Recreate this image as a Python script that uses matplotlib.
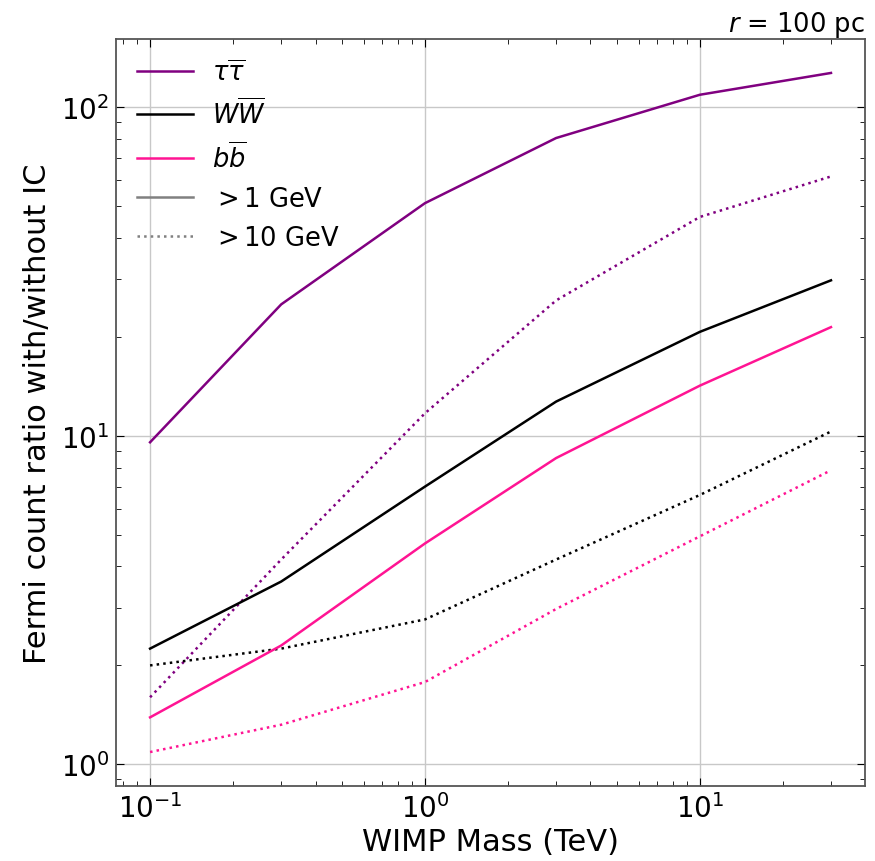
import matplotlib
matplotlib.use("Agg")
import matplotlib.pyplot as plt
from matplotlib.lines import Line2D

# WIMP masses (TeV)
mass = [0.1, 0.3, 1, 3, 10, 30]

# Fermi count ratio with/without IC, photons > 1 GeV
tau_1gev = [9.55, 25.1, 51, 80.5, 109, 127]
ww_1gev = [2.25, 3.6, 7.0, 12.7, 20.7, 29.7]
bb_1gev = [1.39, 2.3, 4.7, 8.55, 14.2, 21.4]

# Fermi count ratio with/without IC, photons > 10 GeV
tau_10gev = [1.6, 4.2, 11.7, 25.8, 46.3, 61.5]
ww_10gev = [2.0, 2.25, 2.76, 4.2, 6.6, 10.3]
bb_10gev = [1.09, 1.32, 1.78, 2.97, 4.94, 7.85]

channel_labels = [r'$\tau\overline{\tau}$', r'$W\overline{W}$', r'$b\overline{b}$']
channel_colors = ['purple', 'black', 'deeppink']
cut_labels = [r'$>1$ GeV', r'$>10$ GeV']

fig = plt.figure(figsize=(8.75, 8.62), dpi=100)
ax = fig.add_axes([0.1326, 0.087, 0.856, 0.8666])

for y1, y10, c in zip([tau_1gev, ww_1gev, bb_1gev],
                      [tau_10gev, ww_10gev, bb_10gev], channel_colors):
    ax.plot(mass, y1, color=c, lw=1.8, ls='-')
    ax.plot(mass, y10, color=c, lw=1.8, ls=':')

ax.set_xscale('log')
ax.set_yscale('log')
ax.grid(True, which='major', color='#c8c8c8', lw=1.0)
ax.tick_params(which='both', direction='in', top=True, right=True, labelsize=20)
ax.tick_params(which='major', length=6, pad=5)
ax.tick_params(which='minor', length=3.5)
for s in ax.spines.values():
    s.set_color('#555555')
    s.set_linewidth(1.3)

ax.set_xlabel('WIMP Mass (TeV)', fontsize=22, labelpad=3)
ax.set_ylabel('Fermi count ratio with/without IC', fontsize=22, labelpad=6)
ax.set_title(r'$r$ = 100 pc', loc='right', fontsize=18.5, pad=6)

handles = [Line2D([], [], color=c, lw=1.8) for c in channel_colors]
handles += [Line2D([], [], color='gray', lw=1.8, ls='-'),
            Line2D([], [], color='gray', lw=1.8, ls=':')]
ax.legend(handles, channel_labels + cut_labels, loc='upper left',
          frameon=False, fontsize=18.5, handlelength=2.2, handletextpad=0.75,
          labelspacing=0.5, borderaxespad=0.4)

fig.savefig('out.png', dpi=100)
